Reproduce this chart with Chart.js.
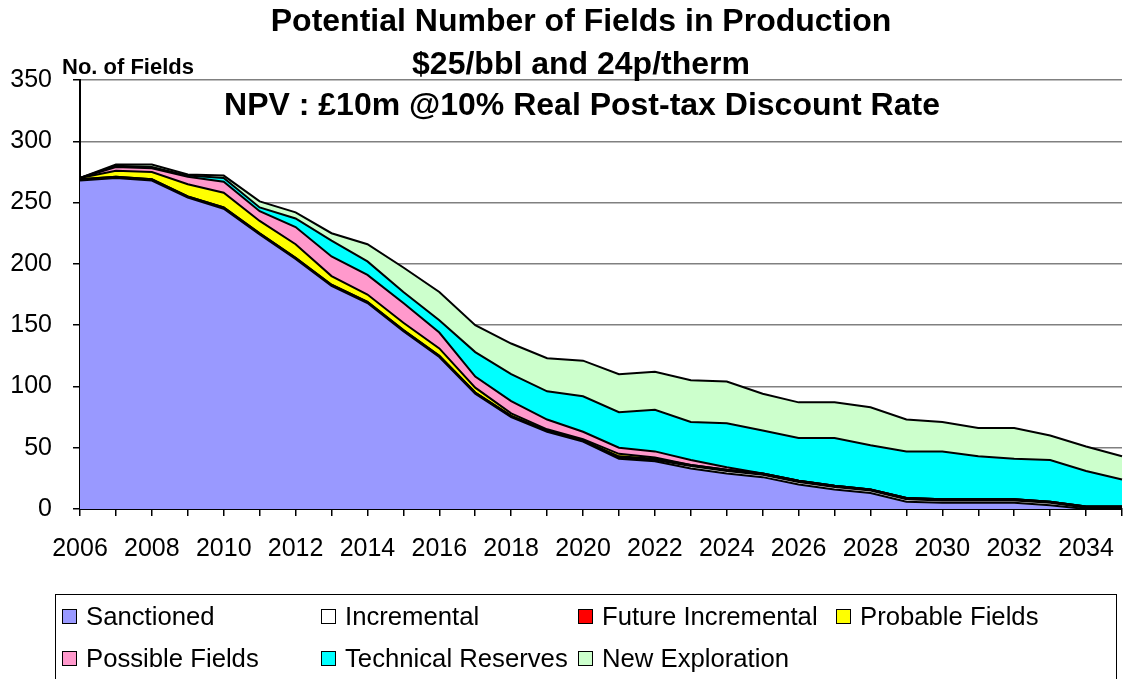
<!DOCTYPE html>
<html>
<head>
<meta charset="utf-8">
<script src="https://cdn.jsdelivr.net/npm/chart.js@4"></script>
<style>
  html, body { margin: 0; padding: 0; background: #fff; overflow: hidden; }
  #wrap { position: relative; width: 1123px; height: 679px; }
  #legend {
    position: absolute; left: 55px; top: 594px; width: 1062px; height: 100px;
    border: 1px solid #000; box-sizing: border-box;
    font-family: "Liberation Sans", Arial, sans-serif; font-size: 25.7px; color: #000;
  }
  .item { position: absolute; display: flex; align-items: center; height: 30px; white-space: nowrap; }
  .box { width: 13px; height: 13px; border: 1.5px solid #000; margin-right: 9px; }
</style>
</head>
<body>
<div id="wrap">
  <canvas id="chart" width="1123" height="679"></canvas>
  <div id="legend"></div>
</div>
<script>
const years = ["2006","2007","2008","2009","2010","2011","2012","2013","2014","2015",
               "2016","2017","2018","2019","2020","2021","2022","2023","2024","2025",
               "2026","2027","2028","2029","2030","2031","2032","2033","2034","2035"];

const sanctioned        = [268,270,268,254,245,224,204,182,168,145,124,94,75,63,55,41,39,33,29,26,20,16,13,6,5,5,5,3,0,0];
const incremental       = [1,1,1,1,1,1,1,1,1,1,1,1,1,1,1,1,1,2,2,2,2,2,2,2,2,2,2,2,1,1];
const futureIncremental = [0,0,0,0,0,0,0,0,0,0,0,0,0,0,0,1,1,1,1,1,1,1,1,1,1,1,1,1,1,1];
const probable          = [1,5,6,10,12,10,11,7,6,6,6,4,2,1,1,2,1,0,0,0,0,0,0,0,0,0,0,0,0,0];
const possible          = [0,3,3,6,9,8,14,16,16,16,13,9,10,8,6,5,5,4,2,0,0,0,0,0,0,0,0,0,0,0];
const technical         = [0,1,1,1,3,3,7,13,11,9,10,20,22,23,29,29,34,31,36,35,35,39,36,38,39,35,33,34,29,22];
const newExploration    = [0,1,2,1,2,5,5,6,14,20,23,22,25,27,29,31,31,34,34,30,29,29,31,26,24,23,25,20,20,19];

const yTicks = [0, 50, 100, 150, 200, 250, 300, 350];

const titleLines = [
  "Potential Number of Fields in Production",
  "$25/bbl and 24p/therm",
  "NPV : £10m @10% Real Post-tax Discount Rate"
];

const series = [
  { label: "Sanctioned", data: sanctioned, color: "#9999FF" },
  { label: "Incremental", data: incremental, color: "#FFFFFF" },
  { label: "Future Incremental", data: futureIncremental, color: "#FF0000" },
  { label: "Probable Fields", data: probable, color: "#FFFF00" },
  { label: "Possible Fields", data: possible, color: "#FF99CC" },
  { label: "Technical Reserves", data: technical, color: "#00FFFF" },
  { label: "New Exploration", data: newExploration, color: "#CCFFCC" }
];

const FONT = '"Liberation Sans", Arial, sans-serif';

// titles drawn as text on top of the chart
const titlePlugin = {
  id: 'titles',
  afterDraw(chart) {
    const ctx = chart.ctx;
    ctx.save();
    ctx.fillStyle = '#000';
    ctx.textAlign = 'center';
    ctx.textBaseline = 'alphabetic';
    ctx.font = 'bold 32px ' + FONT;
    ctx.fillText(titleLines[0], 581, 31);
    ctx.fillText(titleLines[1], 581, 74);
    ctx.fillText(titleLines[2], 582, 115);
    ctx.textAlign = 'left';
    ctx.font = 'bold 22px ' + FONT;
    ctx.fillText("No. of Fields", 62, 74);
    ctx.restore();
  }
};

const chart = new Chart(document.getElementById('chart'), {
  type: 'line',
  data: {
    labels: years,
    datasets: series.map((s, i) => ({
      label: s.label,
      data: s.data,
      backgroundColor: s.color,
      borderColor: '#000',
      borderWidth: 2,
      fill: i === 0 ? 'origin' : '-1',
      pointRadius: 0,
      tension: 0
    }))
  },
  plugins: [titlePlugin],
  options: {
    responsive: false,
    animation: false,
    events: [],
    layout: { padding: { top: 80, right: 1, left: 0, bottom: 0 } },
    plugins: {
      legend: { display: false },
      title: { display: false },
      tooltip: { enabled: false }
    },
    scales: {
      x: {
        offset: false,
        afterFit(scale) {
          scale.height = 170;
          scale.paddingLeft = 0;
          scale.paddingRight = 0;
        },
        grid: { drawOnChartArea: false, drawTicks: true, tickLength: 7, tickColor: '#000', lineWidth: 1.5 },
        border: { color: '#000', width: 2 },
        ticks: {
          autoSkip: false, maxRotation: 0, minRotation: 0, padding: 18,
          color: '#000', font: { family: FONT, size: 25 },
          callback: function (value, index) {
            return index % 2 === 0 ? this.getLabelForValue(value) : '';
          }
        }
      },
      y: {
        stacked: true,
        min: 0,
        max: 350,
        afterFit(scale) {
          scale.width = 80;
          scale.paddingTop = 0;
          scale.paddingBottom = 0;
        },
        afterBuildTicks(scale) { scale.ticks = yTicks.map(v => ({ value: v })); },
        grid: { color: '#808080', lineWidth: 1.5, tickLength: 7, tickColor: '#000' },
        border: { color: '#000', width: 2 },
        ticks: { padding: 21, color: '#000', font: { family: FONT, size: 25 } }
      }
    }
  }
});

// legend in fixed columns, like the original
const legend = document.getElementById('legend');
const colX = [6, 265, 522, 780];
chart.data.datasets.forEach((ds, i) => {
  const row = i < 4 ? 0 : 1;
  const col = i < 4 ? i : i - 4;
  const item = document.createElement('div');
  item.className = 'item';
  item.style.left = colX[col] + 'px';
  item.style.top = (6 + row * 42) + 'px';
  const box = document.createElement('span');
  box.className = 'box';
  box.style.background = ds.backgroundColor;
  const txt = document.createElement('span');
  txt.textContent = ds.label;
  item.appendChild(box);
  item.appendChild(txt);
  legend.appendChild(item);
});
</script>
</body>
</html>
